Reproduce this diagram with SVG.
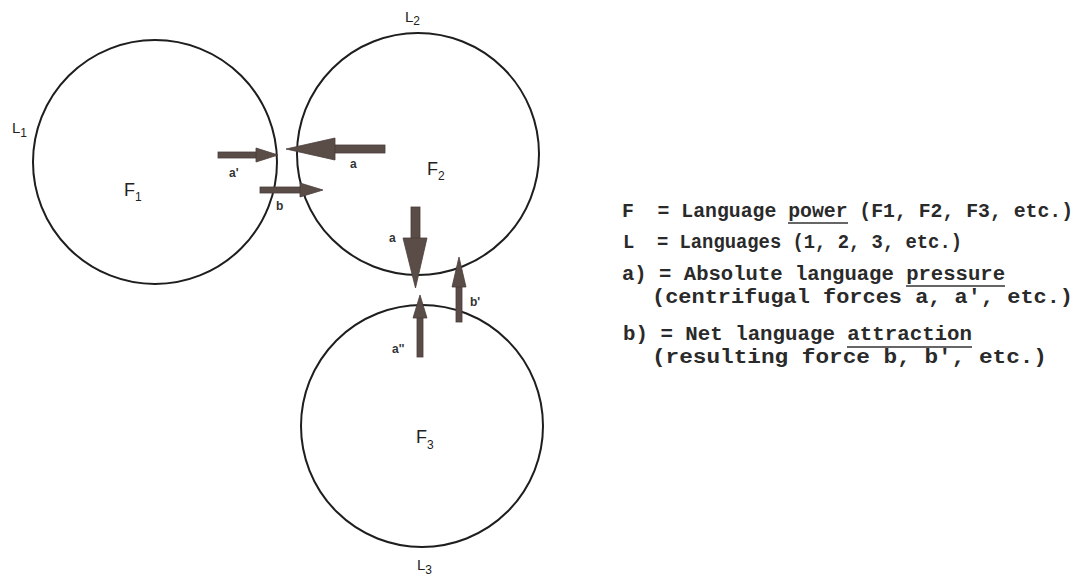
<svg xmlns="http://www.w3.org/2000/svg" width="1086" height="578" viewBox="0 0 1086 578">
<style>
.ring{fill:none;stroke:#1e1e1e;stroke-width:2}
.arr{fill:#5a4c47;stroke:#4a3e3a;stroke-width:0.8}
.lbl{font-family:"Liberation Sans",Arial,sans-serif;fill:#222}
.big{font-size:18px}
.sub{font-size:12px}
.al{font-family:"Liberation Sans",Arial,sans-serif;font-size:12px;font-weight:bold;fill:#333}
.leg{font-family:"Liberation Mono","Courier New",monospace;font-size:20px;font-weight:bold;fill:#2a2a2a}
.ul{stroke:#333;stroke-width:1.5}
</style>
<rect width="1086" height="578" fill="#ffffff"/>
<g id="node-L1">
<circle class="ring" cx="155" cy="162" r="122"/>
<text class="lbl" x="12" y="133" font-size="15">L<tspan class="sub" dy="4">1</tspan></text>
<text class="lbl big" x="124" y="196">F<tspan class="sub" dy="5">1</tspan></text>
</g>
<g id="node-L2">
<circle class="ring" cx="418" cy="154" r="121"/>
<text class="lbl" x="405" y="22" font-size="15">L<tspan class="sub" dy="3">2</tspan></text>
<text class="lbl big" x="427" y="175">F<tspan class="sub" dy="5">2</tspan></text>
</g>
<g id="node-L3">
<circle class="ring" cx="422" cy="426" r="121"/>
<text class="lbl" x="417" y="570" font-size="15">L<tspan class="sub" dy="4">3</tspan></text>
<text class="lbl big" x="416" y="443">F<tspan class="sub" dy="6">3</tspan></text>
</g>
<g id="connectors">
<rect class="arr" x="218" y="152" width="40" height="6"/>
<polygon class="arr" points="256,148 278,155 256,162"/>
<rect class="arr" x="333" y="145" width="52" height="8"/>
<polygon class="arr" points="335,138 286,149 335,160"/>
<rect class="arr" x="260" y="187" width="42" height="6"/>
<polygon class="arr" points="300,183 323,190 300,197"/>
<rect class="arr" x="411" y="207" width="9" height="33"/>
<polygon class="arr" points="403,238 427,238 415.5,288"/>
<rect class="arr" x="417" y="316" width="6" height="41"/>
<polygon class="arr" points="413,318 427,318 420,295"/>
<rect class="arr" x="456" y="285" width="6" height="37"/>
<polygon class="arr" points="452,287 466,287 459,257"/>
<text class="al" x="229" y="177">a'</text>
<text class="al" x="350" y="168">a</text>
<text class="al" x="276" y="210">b</text>
<text class="al" x="389" y="242">a</text>
<text class="al" x="392" y="353">a''</text>
<text class="al" x="470" y="306">b'</text>
</g>
<g id="legend">
<text class="leg" x="622" y="217" textLength="451" lengthAdjust="spacingAndGlyphs" xml:space="preserve">F  = Language power (F1, F2, F3, etc.)</text>
<line class="ul" x1="788" y1="223" x2="848" y2="223"/>
<text class="leg" x="623" y="248" textLength="339" lengthAdjust="spacingAndGlyphs" xml:space="preserve">L  = Languages (1, 2, 3, etc.)</text>
<text class="leg" x="622" y="280" textLength="383" lengthAdjust="spacingAndGlyphs">a) = Absolute language pressure</text>
<line class="ul" x1="906" y1="286" x2="1005" y2="286"/>
<text class="leg" x="652" y="303" textLength="421" lengthAdjust="spacingAndGlyphs">(centrifugal forces a, a', etc.)</text>
<text class="leg" x="623" y="340" textLength="349" lengthAdjust="spacingAndGlyphs">b) = Net language attraction</text>
<line class="ul" x1="847" y1="347" x2="972" y2="347"/>
<text class="leg" x="652" y="363" textLength="395" lengthAdjust="spacingAndGlyphs">(resulting force b, b', etc.)</text>
</g>
</svg>
